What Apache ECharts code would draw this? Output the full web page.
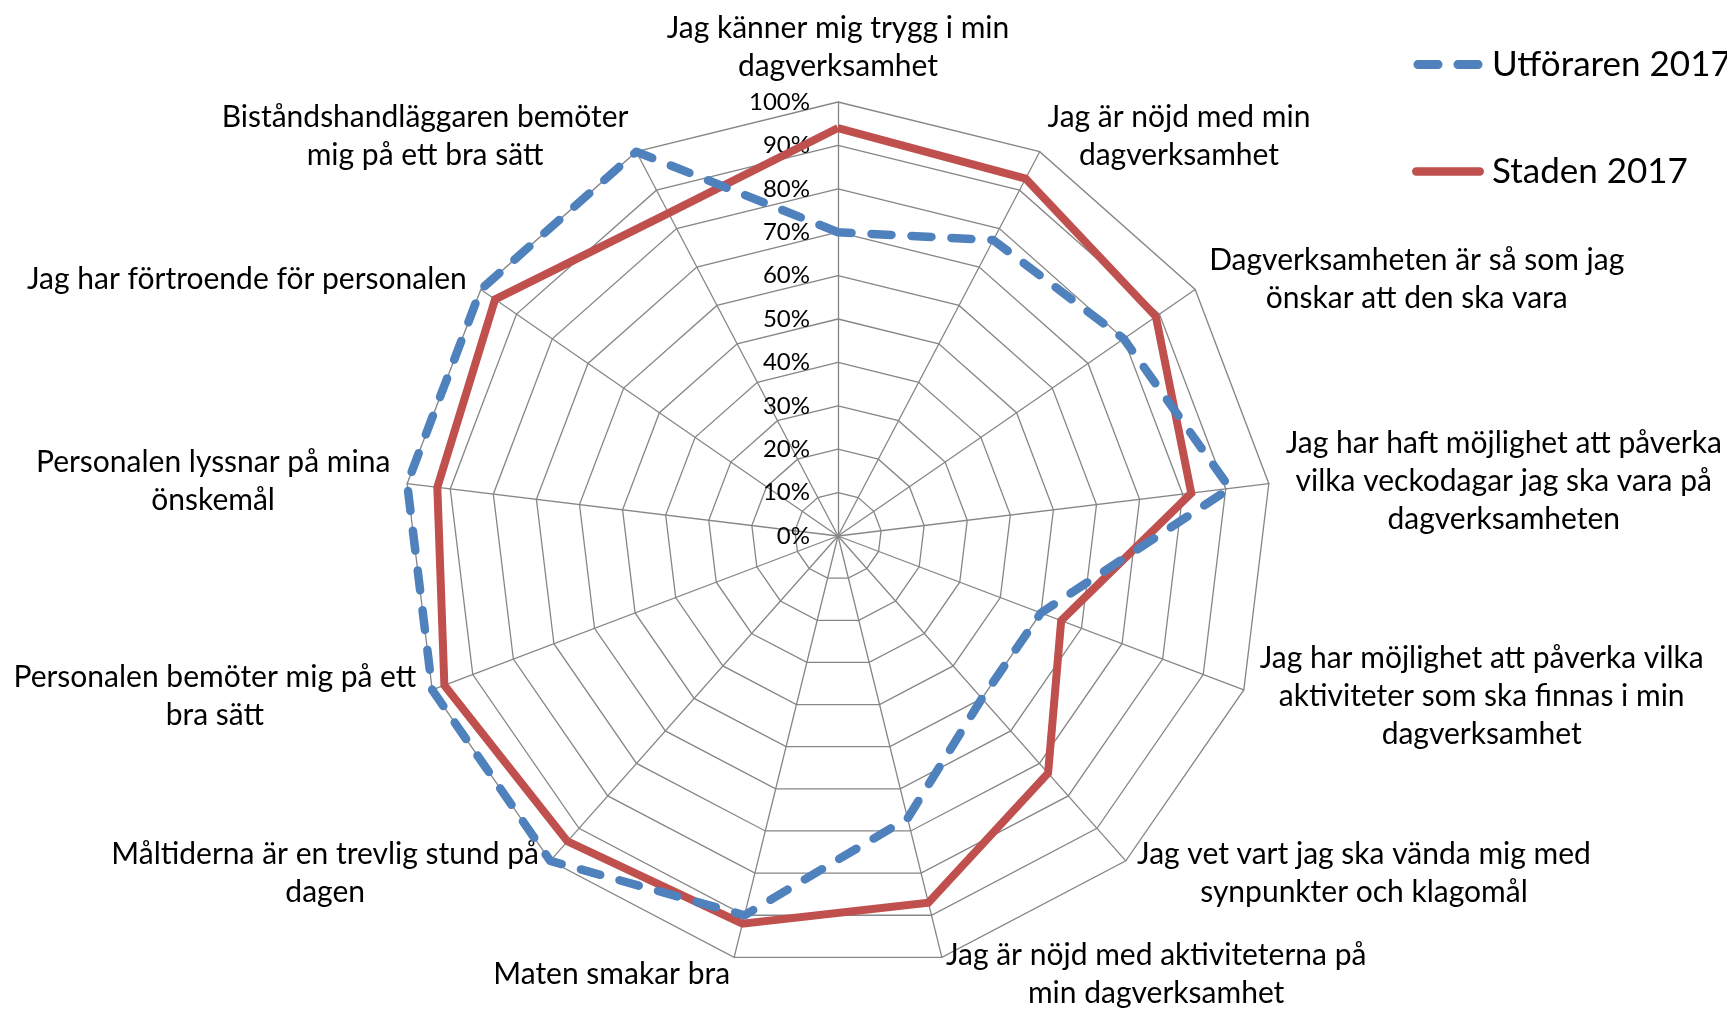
<!DOCTYPE html>
<html>
<head>
<meta charset="utf-8">
<title>Dagverksamhet 2017</title>
<script src="https://cdn.jsdelivr.net/npm/echarts@6/dist/echarts.min.js"></script>
<style>
  html, body { margin: 0; padding: 0; background: #fff; }
  #main { width: 1727px; height: 1009px; }
</style>
</head>
<body>
<div id="main"></div>
<script>
// påståenden, medurs från toppen (som i originalet)
let categories = [
  'Jag känner mig trygg i min\ndagverksamhet',
  'Jag är nöjd med min\ndagverksamhet',
  'Dagverksamheten är så som jag\nönskar att den ska vara',
  'Jag har haft möjlighet att påverka\nvilka veckodagar jag ska vara på\ndagverksamheten',
  'Jag har möjlighet att påverka vilka\naktiviteter som ska finnas i min\ndagverksamhet',
  'Jag vet vart jag ska vända mig med\nsynpunkter och klagomål',
  'Jag är nöjd med aktiviteterna på\nmin dagverksamhet',
  'Maten smakar bra',
  'Måltiderna är en trevlig stund på\ndagen',
  'Personalen bemöter mig på ett\nbra sätt',
  'Personalen lyssnar på mina\nönskemål',
  'Jag har förtroende för personalen',
  'Biståndshandläggaren bemöter\nmig på ett bra sätt'
]
let seriesNames = ['Utföraren 2017', 'Staden 2017']
let utforaren = [70, 77, 80, 91, 50, 50, 67, 90, 100, 100, 100, 100, 100]
let staden = [94, 93, 89, 82, 55, 73, 87, 92, 94, 97, 93, 96, 84]
let tickLabels = ['0%', '10%', '20%', '30%', '40%', '50%', '60%', '70%', '80%', '90%', '100%']

let font = 'Lato, "Open Sans", sans-serif'
let blue = '#4F81BD'
let red = '#C0504D'
let gridColor = '#868686'

// echarts lägger indikatorerna moturs, så vänd ordningen efter den första
let order = [0]
for (let i = categories.length - 1; i > 0; i--) order.push(i)
function pick (arr) {
  return order.map(function (k) { return arr[k] })
}

let indicators = order.map(function (k, j) {
  let ind = { name: categories[k], min: 0, max: 100 }
  // bara den lodräta axeln får procentetiketter
  if (j === 0) ind.axisLabel = { show: true }
  return ind
})

// ikoner i förklaringen: streckad resp. hel linje
let dashIcon = 'path://M4.5,0H24.5A4.5,4.5 0 0 1 24.5,9H4.5A4.5,4.5 0 0 1 4.5,0Z' +
  'M44.5,0H64.5A4.5,4.5 0 0 1 64.5,9H44.5A4.5,4.5 0 0 1 44.5,0Z'
let solidIcon = 'path://M4.5,0H72.5A4.5,4.5 0 0 1 72.5,9H4.5A4.5,4.5 0 0 1 4.5,0Z'

let myChart = echarts.init(document.getElementById('main'))
let option = {
  backgroundColor: '#fff',
  animation: false,
  legend: {
    orient: 'vertical',
    left: 1412,
    top: 47,
    padding: 0,
    itemGap: 72,
    itemWidth: 72,
    itemHeight: 9,
    textStyle: { color: '#000', fontSize: 35, fontFamily: font, padding: [0, 0, 0, 3] },
    data: [
      { name: seriesNames[0], icon: dashIcon },
      { name: seriesNames[1], icon: solidIcon }
    ]
  },
  radar: {
    center: [838, 536],
    radius: 434,
    startAngle: 90,
    shape: 'polygon',
    splitNumber: 10,
    nameGap: 17,
    indicator: indicators,
    axisName: {
      color: '#000',
      fontFamily: font,
      fontSize: 30,
      formatter: function (name) {
        return name.split('\n').map(function (s) { return '{c|' + s + '}' }).join('\n')
      },
      rich: {
        c: { align: 'center', color: '#000', fontFamily: font, fontSize: 30, lineHeight: 38 }
      }
    },
    splitLine: { lineStyle: { color: gridColor, width: 1.3 } },
    splitArea: { show: false },
    axisLine: { lineStyle: { color: gridColor, width: 1.3 } },
    axisTick: { show: false },
    axisLabel: {
      show: false,
      color: '#000',
      fontFamily: font,
      fontSize: 24,
      margin: 28,
      formatter: function (v) { return tickLabels[Math.round(v / 10)] }
    }
  },
  series: [
    {
      type: 'radar',
      symbol: 'none',
      data: [
        {
          name: seriesNames[1],
          value: pick(staden),
          itemStyle: { color: red },
          lineStyle: { color: red, width: 8, join: 'miter' }
        },
        {
          name: seriesNames[0],
          value: pick(utforaren),
          itemStyle: { color: blue },
          lineStyle: { color: blue, width: 8.5, type: [20, 20], cap: 'round', join: 'round' }
        }
      ]
    }
  ]
}
myChart.setOption(option)
</script>
</body>
</html>
